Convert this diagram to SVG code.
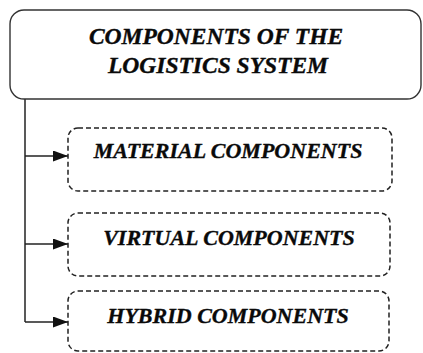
<svg xmlns="http://www.w3.org/2000/svg" width="423" height="353" viewBox="0 0 423 353">
<defs>
<style>
text{font-family:'Liberation Serif','DejaVu Serif',serif;font-weight:700;font-style:italic;fill:#0a0a0a;stroke:#0a0a0a;stroke-width:0.35;text-anchor:middle}
.main{fill:#fff;stroke:#333;stroke-width:1.4}
.sub{fill:#fff;stroke:#222;stroke-width:1.5;stroke-dasharray:5 3}
.ln{fill:none;stroke:#222;stroke-width:1.5}
</style>
<marker id="ah" viewBox="0 0 15 11" refX="15" refY="5.5" markerWidth="15" markerHeight="11" markerUnits="userSpaceOnUse" orient="auto">
<path d="M0,0 L15,5.5 L0,11 Z" fill="#111"/>
</marker>
</defs>
<rect width="423" height="353" fill="#fff"/>
<g id="connectors">
<path class="ln" d="M25,99 V322"/>
<path class="ln" d="M25,156 H68" marker-end="url(#ah)"/>
<path class="ln" d="M25,244 H68" marker-end="url(#ah)"/>
<path class="ln" d="M25,322 H68" marker-end="url(#ah)"/>
</g>
<g id="root">
<rect class="main" x="10" y="10" width="411" height="89" rx="14"/>
<text x="216" y="44" font-size="23.5">COMPONENTS OF THE</text>
<text x="218" y="73" font-size="23.5">LOGISTICS SYSTEM</text>
</g>
<g id="material">
<rect class="sub" x="68" y="128" width="324" height="63" rx="10"/>
<text x="228" y="158" font-size="22">MATERIAL COMPONENTS</text>
</g>
<g id="virtual">
<rect class="sub" x="68" y="213" width="322" height="63" rx="10"/>
<text x="229" y="245" font-size="22">VIRTUAL COMPONENTS</text>
</g>
<g id="hybrid">
<rect class="sub" x="68" y="291" width="321" height="60" rx="10"/>
<text x="228" y="323" font-size="22">HYBRID COMPONENTS</text>
</g>
</svg>
